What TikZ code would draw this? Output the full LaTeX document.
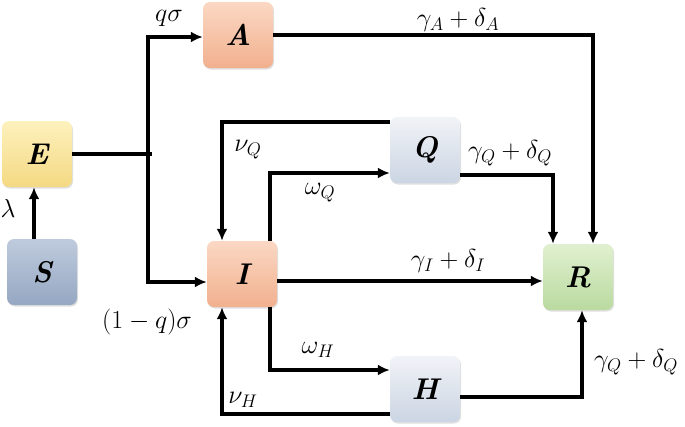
\RequirePackage{fix-cm}
\documentclass[tikz,border=0pt]{standalone}
\usepackage{amsmath}
\usetikzlibrary{arrows.meta,positioning,shadows}

\definecolor{peachtop}{HTML}{FBD8C4}
\definecolor{peachbot}{HTML}{F1B08E}
\definecolor{yeltop}{HTML}{FDF1BD}
\definecolor{yelbot}{HTML}{F4D983}
\definecolor{bluetop}{HTML}{BFCBDD}
\definecolor{bluebot}{HTML}{95A7C2}
\definecolor{greytop}{HTML}{F1F3F7}
\definecolor{greybot}{HTML}{CBD5E3}
\definecolor{greentop}{HTML}{E0F0CF}
\definecolor{greenbot}{HTML}{BADAA0}

\tikzset{
  comp/.style={rounded corners=7pt, minimum width=70pt, minimum height=66pt,
    inner sep=0pt, font=\fontsize{30}{33}\selectfont\bfseries\itshape,
    drop shadow={shadow xshift=1pt, shadow yshift=-1.5pt, opacity=0.25}},
  flow/.style={line width=3.1pt, -{Latex[length=12pt,width=11pt]}},
  link/.style={line width=3.1pt},
  rate/.style={font=\fontsize{26}{30}\selectfont, inner sep=0pt}
}

\begin{document}
\begin{tikzpicture}[x=1pt,y=-1pt]
\useasboundingbox (0,0) rectangle (685,426);

% compartments
\node[comp, top color=peachtop, bottom color=peachbot] (A) at (238,35) {A};
\node[comp, top color=yeltop, bottom color=yelbot] (E) at (37,154) {E};
\node[comp, top color=bluetop, bottom color=bluebot] (S) at (42,272) {S};
\node[comp, top color=greytop, bottom color=greybot] (Q) at (425,150) {Q};
\node[comp, top color=peachtop, bottom color=peachbot] (I) at (242,274) {I};
\node[comp, top color=greentop, bottom color=greenbot] (R) at (578,277) {R};
\node[comp, top color=greytop, bottom color=greybot] (H) at (425,389) {H};

\coordinate (split) at (148,154);

% flows
\draw[flow] ([xshift=-8pt]S.north) -- ([xshift=-8pt]S.north |- E.south);
\draw[link] (E.east) -- ([xshift=4pt]split);
\draw[flow] (split) |- ([yshift=-2pt]A.west);
\draw[flow] (split) |- ([yshift=-8pt]I.west);
\draw[flow] (A.east) -| ([xshift=15pt]R.north);
\draw[flow] ([yshift=-25pt]Q.east) -| ([xshift=-25pt]R.north);
\draw[flow] ([yshift=28pt]Q.west) -| ([xshift=-20pt]I.north);
\draw[flow] ([xshift=28pt]I.north) |- ([yshift=-23pt]Q.west);
\draw[flow] ([yshift=-7pt]I.east) -- ([yshift=-7pt]I.east -| R.west);
\draw[flow] ([xshift=28pt]I.south) |- ([yshift=19pt]H.west);
\draw[flow] ([yshift=-25pt]H.west) -| ([xshift=-20pt]I.south);
\draw[flow] ([yshift=-8pt]H.east) -| ([xshift=4pt]R.south);

% rates
\node[rate] (lam) at (8,208) {$\lambda$};
\node[rate] (qs) at (169,18) {$q\sigma$};
\node[rate] (oneq) at (147,322) {$(1-q)\sigma$};
\node[rate] (gA) at (458,20) {$\gamma_A+\delta_A$};
\node[rate] (nQ) at (248,150) {$\nu_Q$};
\node[rate] (gQ) at (510,153) {$\gamma_Q+\delta_Q$};
\node[rate] (oQ) at (320,193) {$\omega_Q$};
\node[rate] (gI) at (448,261) {$\gamma_I+\delta_I$};
\node[rate] (oH) at (318,350) {$\omega_H$};
\node[rate] (nH) at (243,400) {$\nu_H$};
\node[rate] (gH) at (636,362) {$\gamma_Q+\delta_Q$};
\end{tikzpicture}
\end{document}
